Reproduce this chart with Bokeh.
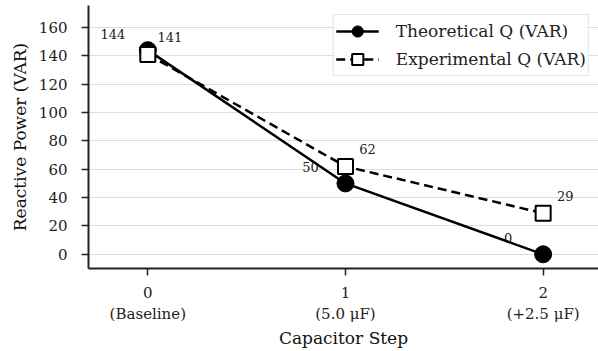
from bokeh.plotting import figure
from bokeh.models import Range1d, FixedTicker, Legend, LegendItem, ColumnDataSource
from bokeh.embed import file_html
from bokeh.resources import INLINE
from bokeh.core.properties import value

steps = [0, 1, 2]
step_labels = ["0\n(Baseline)", "1\n(5.0 μF)", "2\n(+2.5 μF)"]
theoretical_q = [144, 50, 0]
experimental_q = [141, 62, 29]
y_ticks = [0, 20, 40, 60, 80, 100, 120, 140, 160]

FONT = "DejaVu Serif"

src_t = ColumnDataSource(dict(x=steps, y=theoretical_q, t=[str(v) for v in theoretical_q]))
src_e = ColumnDataSource(dict(x=steps, y=experimental_q, t=[str(v) for v in experimental_q]))

p = figure(frame_width=510, frame_height=263, output_backend="svg", toolbar_location=None,
           x_range=Range1d(-0.3, 2.28), y_range=Range1d(-10, 175.5),
           min_border_left=88, min_border_right=0, min_border_top=5, min_border_bottom=78)
p.outline_line_color = None
p.background_fill_color = "white"

# annotations (drawn first so lines sit on top)
p.text(x="x", y="y", text="t", source=src_t, x_offset=-35, y_offset=-16,
       text_align="center", text_baseline="middle", text_font=value(FONT),
       text_font_size="13px", text_color="#222222")
p.text(x="x", y="y", text="t", source=src_e, x_offset=22, y_offset=-17,
       text_align="center", text_baseline="middle", text_font=value(FONT),
       text_font_size="13px", text_color="#222222")

lt = p.line(x="x", y="y", source=src_t, line_color="black", line_width=2.5)
st = p.scatter(x="x", y="y", source=src_t, marker="circle", size=17,
               fill_color="black", line_color="black")
le = p.line(x="x", y="y", source=src_e, line_color="black", line_width=2.5, line_dash="9 5")
se = p.scatter(x="x", y="y", source=src_e, marker="square", size=15,
               fill_color="white", line_color="black", line_width=2)

legend = Legend(items=[LegendItem(label="Theoretical Q (VAR)", renderers=[lt, st]),
                       LegendItem(label="Experimental Q (VAR)", renderers=[le, se])],
                location="top_right")
legend.label_text_font = FONT
legend.label_text_font_size = "17px"
legend.label_text_color = "#222222"
legend.glyph_width = 43
legend.glyph_height = 28
legend.label_standoff = 17
legend.spacing = 0
legend.padding = 2
legend.margin = 9
legend.border_line_color = "#cccccc"
legend.border_line_width = 1.5
legend.background_fill_alpha = 0.9
p.add_layout(legend)

p.xgrid.grid_line_color = None
p.ygrid.grid_line_color = "#dddddd"
p.ygrid.grid_line_width = 1
p.ygrid.ticker = FixedTicker(ticks=y_ticks)

p.xaxis.ticker = FixedTicker(ticks=steps)
p.xaxis.major_label_overrides = {s: l for s, l in zip(steps, step_labels)}
p.yaxis.ticker = FixedTicker(ticks=y_ticks)

for ax in (p.xaxis[0], p.yaxis[0]):
    ax.axis_line_width = 2
    ax.axis_line_color = "#222222"
    ax.major_tick_line_width = 1.5
    ax.major_tick_line_color = "#222222"
    ax.major_tick_out = 7
    ax.major_tick_in = 0
    ax.minor_tick_line_color = None
    ax.major_label_text_font = FONT
    ax.major_label_text_color = "#222222"
    ax.axis_label_text_font = FONT
    ax.axis_label_text_font_size = "17px"
    ax.axis_label_text_font_style = "normal"
    ax.axis_label_text_color = "#111111"

p.xaxis.major_label_text_font_size = "15px"
p.yaxis.major_label_text_font_size = "15px"
p.xaxis.axis_label = "Capacitor Step"
p.yaxis.axis_label = "Reactive Power (VAR)"
p.xaxis.major_label_standoff = 8
p.yaxis.major_label_standoff = 14
p.xaxis.axis_label_standoff = 2
p.yaxis.axis_label_standoff = 6

open("out.html", "w").write(file_html(p, INLINE))
